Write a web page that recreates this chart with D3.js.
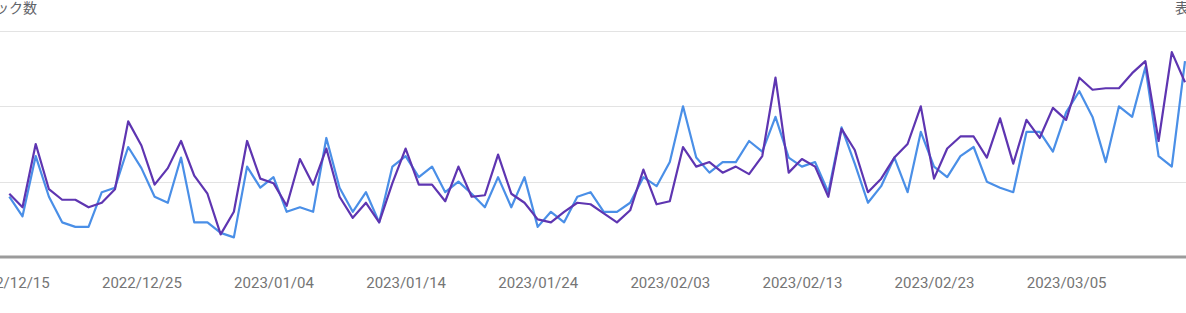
<!DOCTYPE html>
<html>
<head>
<meta charset="utf-8">
<script src="https://cdn.jsdelivr.net/npm/d3@7"></script>
<style>
  html, body { margin: 0; padding: 0; background: #fff; }
  svg { display: block; }
  .tick text { font-family: Roboto, sans-serif; }
</style>
</head>
<body>
<div id="container"></div>
<script>
const width = 1186, height = 313;

// first and last day shown, one point per day
const startDate = new Date(2022, 11, 15);
const endDate = new Date(2023, 2, 14);
const dates = d3.timeDay.range(startDate, d3.timeDay.offset(endDate, 1));

// clicks (blue, left axis)
const clicks = [
    40, 27, 67, 40, 23, 20, 20, 43, 46, 73,
    59, 40, 36, 66, 23, 23, 16, 13, 60, 46,
    53, 30, 33, 30, 79, 46, 30, 43, 23, 60,
    67, 53, 60, 43, 50, 42, 33, 53, 33, 53,
    20, 30, 23, 40, 43, 30, 30, 36, 53, 47,
    63, 100, 66, 56, 63, 63, 77, 70, 93, 66,
    60, 63, 43, 86, 62, 36, 47, 66, 43, 83,
    60, 53, 67, 73, 50, 46, 43, 83, 83, 70,
    96, 110, 93, 63, 100, 93, 126, 67, 60, 130
];

// impressions (purple, right axis)
const impressions = [
    840, 660, 1500, 900, 760, 760, 660, 720, 900, 1800,
    1480, 960, 1180, 1540, 1080, 840, 300, 600, 1540, 1040,
    980, 680, 1300, 960, 1440, 800, 520, 720, 460, 980,
    1440, 960, 960, 740, 1200, 800, 820, 1360, 840, 720,
    500, 460, 600, 720, 700, 580, 460, 620, 1160, 700,
    740, 1460, 1200, 1260, 1120, 1200, 1100, 1340, 2380, 1120,
    1300, 1200, 800, 1700, 1420, 860, 1040, 1320, 1500, 2000,
    1040, 1440, 1600, 1600, 1320, 1840, 1240, 1820, 1580, 1980,
    1820, 2380, 2220, 2240, 2240, 2440, 2600, 1540, 2720, 2320
];

const tickDates = ['2022/12/15', '2022/12/25', '2023/01/04', '2023/01/14', '2023/01/24',
    '2023/02/03', '2023/02/13', '2023/02/23', '2023/03/05'];
const clickTicks = [0, 50, 100, 150];
const impressionTicks = [0, 1000, 2000, 3000];

const parse = d3.timeParse('%Y/%m/%d');
const fmt = d3.timeFormat('%Y/%m/%d');

const plotTop = 31, plotBottom = 257;

const svg = d3.select('#container').append('svg')
    .attr('width', width)
    .attr('height', height)
    .attr('viewBox', [0, 0, width, height]);

const x = d3.scaleTime()
    .domain([startDate, endDate])
    .range([9.3, 1185]);

const yLeft = d3.scaleLinear()
    .domain([0, 150])
    .range([plotBottom, plotTop]);

const yRight = d3.scaleLinear()
    .domain([0, 3000])
    .range([plotBottom, plotTop]);

// horizontal grid
svg.append('g')
    .selectAll('line')
    .data(clickTicks.slice(1))
    .join('line')
        .attr('x1', 0)
        .attr('x2', width)
        .attr('y1', d => Math.round(yLeft(d)) + 0.5)
        .attr('y2', d => Math.round(yLeft(d)) + 0.5)
        .attr('stroke', '#e3e3e3')
        .attr('stroke-width', 1);

// axis titles, cut off at the edges like in the screenshot
svg.append('text')
    .attr('x', 37)
    .attr('y', 13)
    .attr('text-anchor', 'end')
    .attr('fill', '#5f6368')
    .style('font-family', '"Noto Sans CJK JP", sans-serif')
    .style('font-size', '14px')
    .text('クリック数');

svg.append('text')
    .attr('x', 1175)
    .attr('y', 13)
    .attr('fill', '#5f6368')
    .style('font-family', '"Noto Sans CJK JP", sans-serif')
    .style('font-size', '14px')
    .text('表示回数');

// bottom axis
const xAxis = d3.axisBottom(x)
    .tickValues(tickDates.map(parse))
    .tickFormat(fmt)
    .tickSize(0)
    .tickPadding(20);

svg.append('g')
    .attr('transform', `translate(0, ${plotBottom})`)
    .call(xAxis)
    .call(g => g.select('.domain').remove())
    .call(g => g.selectAll('text')
        .attr('fill', '#757575')
        .style('font-size', '15px'));

svg.append('line')
    .attr('x1', 0)
    .attr('x2', width)
    .attr('y1', plotBottom)
    .attr('y2', plotBottom)
    .attr('stroke', '#9b9b9b')
    .attr('stroke-width', 3);

const clickLine = d3.line()
    .x((d, i) => x(dates[i]))
    .y(d => yLeft(d));

const impressionLine = d3.line()
    .x((d, i) => x(dates[i]))
    .y(d => yRight(d));

svg.append('path')
    .datum(clicks)
    .attr('fill', 'none')
    .attr('stroke', '#4a8fe7')
    .attr('stroke-width', 2.2)
    .attr('stroke-linejoin', 'round')
    .attr('d', clickLine);

svg.append('path')
    .datum(impressions)
    .attr('fill', 'none')
    .attr('stroke', '#5e35b1')
    .attr('stroke-width', 2.2)
    .attr('stroke-linejoin', 'round')
    .attr('d', impressionLine);
</script>
</body>
</html>
